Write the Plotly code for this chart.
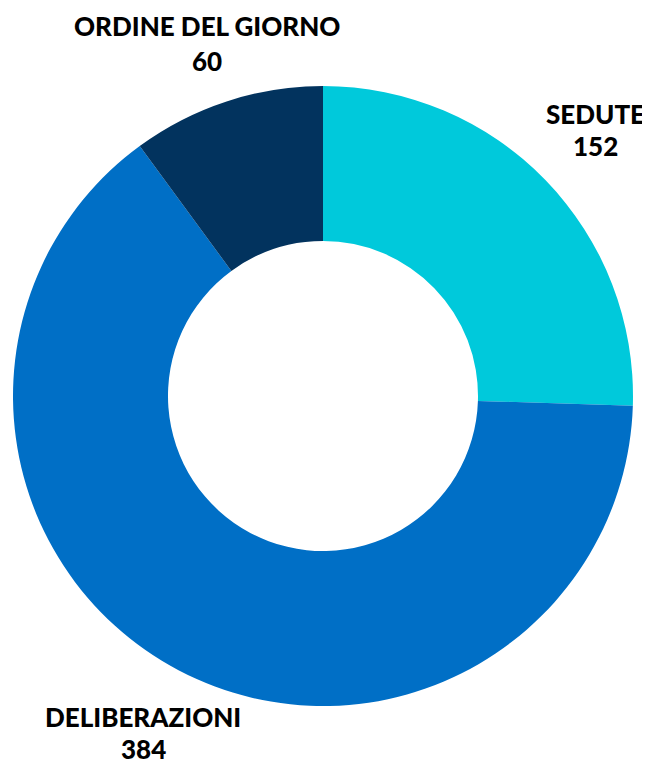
import plotly.graph_objects as go

labels = ["SEDUTE", "DELIBERAZIONI", "ORDINE DEL GIORNO"]
values = [152, 384, 60]
colors = ["#00C9DB", "#006FC6", "#02335E"]

W, H = 642, 760  # page body adds an 8px offset

# label anchor positions (figure pixels) for name line and value line
label_px = [587, 135, 199]
name_py = [106, 709, 18]
value_py = [138, 741, 53]

fig = go.Figure(
    go.Pie(
        labels=labels,
        values=values,
        marker=dict(colors=colors, line=dict(width=0)),
        hole=0.5,
        sort=False,
        direction="clockwise",
        rotation=0,
        textinfo="none",
        domain=dict(x=[5 / W, 625 / W], y=[1 - 698 / H, 1 - 78 / H]),
        showlegend=False,
    )
)

font = dict(family="Lato", size=26, color="#000000", weight=900)
anns = []
for i, (lab, val) in enumerate(zip(labels, values)):
    anns.append(dict(x=label_px[i] / W, y=1 - name_py[i] / H, xref="paper", yref="paper",
                     text=lab, showarrow=False, font=font,
                     xanchor="center", yanchor="middle"))
    anns.append(dict(x=label_px[i] / W, y=1 - value_py[i] / H, xref="paper", yref="paper",
                     text=str(val), showarrow=False, font=font,
                     xanchor="center", yanchor="middle"))

fig.update_layout(
    width=W, height=H,
    margin=dict(l=0, r=0, t=0, b=0),
    paper_bgcolor="white", plot_bgcolor="white",
    annotations=anns,
)

fig.write_html("out.html")
